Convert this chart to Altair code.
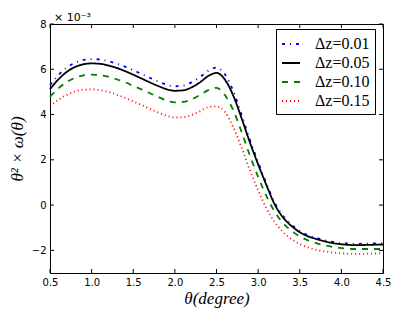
import altair as alt
import pandas as pd

theta = [0.5, 0.6, 0.7, 0.8, 0.9, 1.0, 1.1, 1.2, 1.3, 1.4, 1.5, 1.6, 1.7, 1.8, 1.9,
         2.0, 2.1, 2.2, 2.3, 2.4, 2.5, 2.6, 2.7, 2.8, 2.9, 3.0, 3.1, 3.2, 3.3, 3.4,
         3.5, 3.6, 3.7, 3.8, 3.9, 4.0, 4.1, 4.2, 4.3, 4.4, 4.5]

dz001 = [5.30, 5.74, 6.07, 6.29, 6.41, 6.45, 6.43, 6.36, 6.25, 6.12, 5.96, 5.79, 5.62, 5.46,
         5.32, 5.25, 5.28, 5.42, 5.65, 5.93, 6.07, 5.78, 5.05, 4.00, 2.90, 1.90, 0.95, 0.10,
         -0.48, -0.86, -1.14, -1.33, -1.45, -1.55, -1.63, -1.68, -1.70, -1.71, -1.70, -1.69, -1.68]
dz005 = [5.12, 5.55, 5.88, 6.10, 6.22, 6.26, 6.24, 6.17, 6.06, 5.92, 5.76, 5.59, 5.42, 5.26,
         5.12, 5.05, 5.07, 5.20, 5.42, 5.70, 5.84, 5.55, 4.85, 3.85, 2.78, 1.80, 0.88, 0.02,
         -0.55, -0.92, -1.20, -1.38, -1.50, -1.60, -1.68, -1.73, -1.76, -1.77, -1.76, -1.75, -1.74]
dz010 = [4.78, 5.15, 5.43, 5.62, 5.73, 5.76, 5.74, 5.67, 5.56, 5.43, 5.27, 5.11, 4.94, 4.78,
         4.62, 4.54, 4.56, 4.67, 4.86, 5.08, 5.18, 4.86, 4.20, 3.25, 2.20, 1.25, 0.40, -0.30,
         -0.80, -1.13, -1.38, -1.56, -1.68, -1.78, -1.85, -1.90, -1.93, -1.94, -1.94, -1.94, -1.94]
dz015 = [4.37, 4.65, 4.87, 5.02, 5.10, 5.11, 5.08, 5.00, 4.88, 4.74, 4.58, 4.42, 4.25, 4.09,
         3.95, 3.87, 3.88, 3.98, 4.14, 4.33, 4.36, 4.12, 3.45, 2.55, 1.55, 0.65, -0.15, -0.75,
         -1.20, -1.50, -1.72, -1.87, -1.98, -2.05, -2.10, -2.13, -2.15, -2.16, -2.15, -2.14, -2.13]

labels = ["Δz=0.01", "Δz=0.05", "Δz=0.10", "Δz=0.15"]
colors = ["#0000ff", "#000000", "#008000", "#ff0000"]
dashes = [[3, 5, 1, 5], [1, 0], [6, 6], [1, 3]]

x_ticks = [0.5, 1.0, 1.5, 2.0, 2.5, 3.0, 3.5, 4.0, 4.5]
y_ticks = [-2, 0, 2, 4, 6, 8]
scale_note = "× 10⁻³"

W, H = 333, 249

rows = []
for name, vals in zip(labels, [dz001, dz005, dz010, dz015]):
    for t, v in zip(theta, vals):
        rows.append({"theta": t, "w": v, "series": name})
df = pd.DataFrame(rows)

xs = alt.Scale(domain=[0.5, 4.5], nice=False, zero=False)
ys = alt.Scale(domain=[-3, 8], nice=False, zero=False)

xaxis = alt.Axis(values=x_ticks, format=".1f", title="θ(degree)", labelPadding=4,
                 titlePadding=3, labelFlush=False)
yaxis = alt.Axis(values=y_ticks, format="d", title="θ² × ω(θ)", labelPadding=4,
                 titlePadding=5, labelFlush=False)

leg = alt.Legend(orient="none", legendX=226, legendY=5, title=None)

lines = alt.Chart(df).mark_line(interpolate="monotone", strokeWidth=1.8).encode(
    x=alt.X("theta:Q", scale=xs, axis=xaxis),
    y=alt.Y("w:Q", scale=ys, axis=yaxis),
    color=alt.Color("series:N", scale=alt.Scale(domain=labels, range=colors), legend=leg),
    strokeDash=alt.StrokeDash("series:N", scale=alt.Scale(domain=labels, range=dashes), legend=leg),
)

xt = pd.DataFrame({"theta": x_ticks})
yt = pd.DataFrame({"w": y_ticks})

xb = alt.Chart(xt).mark_rule(color="black", strokeWidth=1).encode(
    x=alt.X("theta:Q", scale=xs, axis=xaxis), y=alt.value(H), y2=alt.value(H - 4))
xtop = alt.Chart(xt).mark_rule(color="black", strokeWidth=1).encode(
    x=alt.X("theta:Q", scale=xs, axis=xaxis), y=alt.value(0), y2=alt.value(4))
yl = alt.Chart(yt).mark_rule(color="black", strokeWidth=1).encode(
    y=alt.Y("w:Q", scale=ys, axis=yaxis), x=alt.value(0), x2=alt.value(4))
yr = alt.Chart(yt).mark_rule(color="black", strokeWidth=1).encode(
    y=alt.Y("w:Q", scale=ys, axis=yaxis), x=alt.value(W), x2=alt.value(W - 4))

note = alt.Chart(pd.DataFrame({"t": [scale_note]})).mark_text(
    font="DejaVu Sans", fontSize=11, color="black", align="left", baseline="alphabetic"
).encode(text="t:N", x=alt.value(4), y=alt.value(-3))

chart = alt.layer(lines, xb, xtop, yl, yr, note).properties(
    width=W, height=H,
    padding={"left": 42, "top": 16, "right": 24, "bottom": 40},
    autosize="none",
).configure_view(stroke="black", strokeWidth=1).configure_axis(
    domain=False, ticks=False, tickSize=0, grid=False,
    labelFont="DejaVu Sans", labelFontSize=10, labelColor="black",
    titleFont="Liberation Serif", titleFontStyle="italic", titleFontWeight="normal",
    titleFontSize=17, titleColor="black",
).configure_legend(
    fillColor="white", strokeColor="black", padding=5, rowPadding=1,
    symbolType="stroke", symbolSize=324, symbolStrokeWidth=2,
    labelFont="Liberation Serif", labelFontSize=16, labelColor="black",
    labelOffset=14,
)

chart.save("out.html", embed_options={"renderer": "svg", "actions": False})
